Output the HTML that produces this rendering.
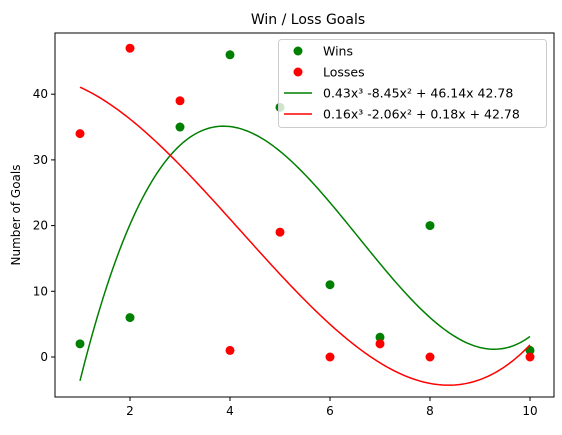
<!DOCTYPE html>
<html><head><meta charset="utf-8"><style>
body{margin:0;background:#fff;}
svg{display:block;font-family:"DejaVu Sans","Liberation Sans",sans-serif;}
</style></head><body>
<svg id="c" width="562" height="435"></svg>
<script>
const xWins=[1,2,3,4,5,6,7,8,10];
const wins=[2,6,35,46,38,11,3,20,1];
const xLosses=[1,2,3,4,5,6,7,8,10];
const losses=[34,47,39,1,19,0,2,0,0];
const xTicks=[2,4,6,8,10];
const yTicks=[0,10,20,30,40];
const winLabel="0.43x³ -8.45x² + 46.14x 42.78";
const lossLabel="0.16x³ -2.06x² + 0.18x + 42.78";

const L=55,R=554,T=33,B=397;
const sx=v=>80+(v-1)*50;
const sy=v=>357-v*6.57;
const NS="http://www.w3.org/2000/svg";
const svg=document.getElementById('c');
function mk(t,a,p){const e=document.createElementNS(NS,t);for(const k in a)e.setAttribute(k,a[k]);(p||svg).appendChild(e);return e;}

function fit(xs,ys){ // cubic least squares
  const n=4,A=[];for(let i=0;i<n;i++){A.push(new Array(n+1).fill(0));}
  xs.forEach((x,k)=>{for(let i=0;i<n;i++){for(let j=0;j<n;j++)A[i][j]+=Math.pow(x,i+j);A[i][n]+=ys[k]*Math.pow(x,i);}});
  for(let i=0;i<n;i++){let p=i;for(let r=i+1;r<n;r++)if(Math.abs(A[r][i])>Math.abs(A[p][i]))p=r;[A[i],A[p]]=[A[p],A[i]];
    for(let r=0;r<n;r++){if(r===i)continue;const f=A[r][i]/A[i][i];for(let c=i;c<=n;c++)A[r][c]-=f*A[i][c];}}
  return A.map((r,i)=>r[n]/r[i]);
}

let t=mk('text',{x:308,y:24,'font-size':14,'text-anchor':'middle',fill:'#000'});t.textContent='Win / Loss Goals';

t=mk('text',{x:20,y:215,'font-size':12,'text-anchor':'middle',transform:'rotate(-90 20 215)'});t.textContent='Number of Goals';


xTicks.forEach(v=>{mk('line',{x1:sx(v),x2:sx(v),y1:B,y2:B+4,stroke:'#000'});
  const e=mk('text',{x:sx(v),y:B+18,'font-size':12,'text-anchor':'middle'});e.textContent=v;
  });
yTicks.forEach(v=>{mk('line',{x1:L-4,x2:L,y1:sy(v),y2:sy(v),stroke:'#000'});
  const e=mk('text',{x:L-7,y:sy(v)+4,'font-size':12,'text-anchor':'end'});e.textContent=v;
  });

function curve(xs,ys,col,name){const c=fit(xs,ys);let d='';
  for(let i=0;i<=180;i++){const x=1+9*i/180;const y=c[0]+c[1]*x+c[2]*x*x+c[3]*x*x*x;d+=(i?'L':'M')+sx(x).toFixed(2)+','+sy(y).toFixed(2);}
  const p=mk('path',{d:d,fill:'none',stroke:col,'stroke-width':1.5});
  }
xWins.forEach((x,i)=>{const e=mk('circle',{cx:sx(x),cy:sy(wins[i]),r:4.5,fill:'green'});
  });
xLosses.forEach((x,i)=>{const e=mk('circle',{cx:sx(x),cy:sy(losses[i]),r:4.5,fill:'red'});
  });
curve(xWins,wins,'green','wins-fit-line');
curve(xLosses,losses,'red','losses-fit-line');
mk('rect',{x:L,y:T,width:R-L,height:B-T,fill:'none',stroke:'#000','stroke-width':1});

const lg=mk('g',{});
mk('rect',{x:278.5,y:39.5,width:268,height:88,rx:3,fill:'#fff','fill-opacity':0.8,stroke:'#ccc'},lg);
const items=[['pt','green','Wins'],['pt','red','Losses'],['ln','green',winLabel],['ln','red',lossLabel]];
items.forEach((it,i)=>{const y=51+i*21;
  if(it[0]==='pt')mk('circle',{cx:298,cy:y,r:4.5,fill:it[1]},lg);
  else mk('line',{x1:284,x2:312,y1:y,y2:y,stroke:it[1],'stroke-width':1.5},lg);
  const e=mk('text',{x:323,y:y+4.5,'font-size':12.5},lg);e.textContent=it[2];
  });
</script>
</body></html>
